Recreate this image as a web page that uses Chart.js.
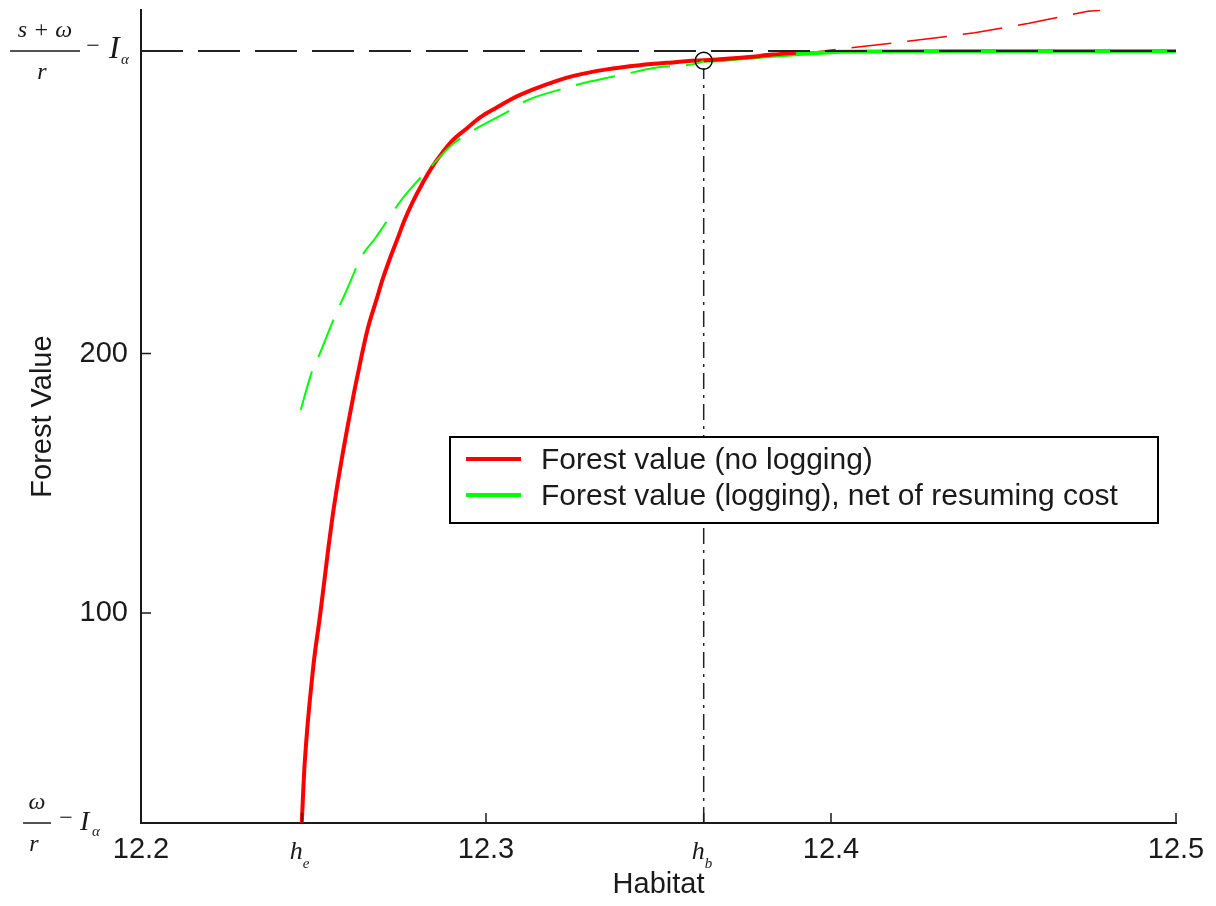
<html>
<head>
<script src="https://cdn.jsdelivr.net/npm/chart.js"></script>
<style>
  body { margin: 0; background: #fff; }
</style>
</head>
<body>
<canvas id="forestChart" width="1216" height="906"></canvas>

<script>
// special points on the axes
const hE = 12.2466;        // h_e
const hB = 12.3631;        // h_b
const lowLevel = 19;       // w/r - I_a
const topLevel = 316.7;    // (s+w)/r - I_a
const markerY = 312.9;     // circle at h_b
const dropY = 310;         // where the dash-dot line meets the circle

// forest value, no logging (solid red)
const redX = [12.2466, 12.2474, 12.2500, 12.2518, 12.2532, 12.2544, 12.2555, 12.2570, 12.2584, 12.2599,
  12.2619, 12.2640, 12.2657, 12.2683, 12.2700, 12.2721, 12.2744, 12.2764, 12.2787, 12.2816,
  12.2845, 12.2874, 12.2903, 12.2944, 12.2982, 12.3031, 12.3077, 12.3135, 12.3205, 12.3251,
  12.3350, 12.3446, 12.3541, 12.3611, 12.3678, 12.3756, 12.3831, 12.3898];
const redY = [19, 41, 80, 98, 113, 126, 137, 150, 161, 172,
  186, 199.5, 209.5, 221, 228.5, 236.5, 244.5, 251.5, 258.3, 265.7,
  272.2, 277.6, 282.2, 286.8, 291.0, 294.9, 298.4, 301.8, 305.2, 307.0,
  309.6, 311.2, 312.3, 313.0, 313.5, 314.3, 315.3, 316.0];

// thin dashed continuation of the red curve
const redExtX = [12.3898, 12.3959, 12.4078, 12.4246, 12.4417, 12.4574, 12.4745, 12.4780];
const redExtY = [316.0, 316.4, 318.2, 320.8, 323.7, 327.4, 332.0, 332.4];

// forest value with logging, dashed part (left of h_b)
const greenDashX = [12.2463, 12.2497, 12.2518, 12.2567, 12.2590, 12.2642, 12.2677, 12.2756, 12.2793, 12.2857,
  12.2903, 12.2953, 12.3069, 12.3118, 12.3214, 12.3301, 12.3396, 12.3495, 12.3620, 12.3631];
const greenDashY = [178.3, 193.7, 199.9, 216.0, 222.6, 238.0, 244.1, 259.5, 265.3, 274.5,
  280.7, 285.3, 293.7, 297.6, 301.8, 304.9, 307.6, 310.3, 312.2, 312.9];

// forest value with logging, solid part (right of h_b)
const greenX = [12.3631, 12.3678, 12.3756, 12.3831, 12.3930, 12.4026, 12.4359, 12.5];
const greenY = [312.9, 313.1, 314.1, 314.9, 315.7, 316.4, 316.7, 316.7];

const xTicks = [12.2, hE, 12.3, hB, 12.4, 12.5];
const yTicks = [lowLevel, 100, 200, topLevel];

const ink = '#1a1a1a';
const sans = '"Liberation Sans", Arial, sans-serif';
const serif = '"Liberation Serif", "Times New Roman", serif';

function pts(xs, ys) {
  return xs.map((v, i) => ({ x: v, y: ys[i] }));
}
function same(a, b) { return Math.abs(a - b) < 1e-9; }

// w/r - I_a style label drawn next to the y axis
function levelLabel(ctx, num, py, bar, minusX, iX, iSize) {
  const mid = (bar[0] + bar[1]) / 2;
  ctx.fillStyle = ink;
  ctx.textBaseline = 'alphabetic';
  ctx.textAlign = 'center';
  ctx.font = 'italic 24px ' + serif;
  ctx.fillText(num, mid, py - 14);
  ctx.fillText('r', mid - 3, py + 28);
  ctx.beginPath();
  ctx.moveTo(bar[0], py);
  ctx.lineTo(bar[1], py);
  ctx.lineWidth = 1.5;
  ctx.strokeStyle = ink;
  ctx.stroke();
  ctx.font = '24px ' + serif;
  ctx.fillText('\u2212', minusX, py + 2);
  ctx.textAlign = 'left';
  ctx.font = 'italic ' + iSize + 'px ' + serif;
  ctx.fillText('I', iX, py + 7);
  ctx.font = 'italic 15px ' + serif;
  ctx.fillText('\u03b1', iX + 12, py + 13);
}

function hLabel(ctx, px, sub) {
  ctx.fillStyle = ink;
  ctx.textBaseline = 'alphabetic';
  ctx.textAlign = 'right';
  ctx.font = 'italic 26px ' + serif;
  ctx.fillText('h', px + 1, 859);
  ctx.textAlign = 'left';
  ctx.font = 'italic 15px ' + serif;
  ctx.fillText(sub, px + 1, 868);
}

const decor = {
  id: 'decor',
  afterDraw(chart) {
    const { ctx, chartArea, scales: { x, y } } = chart;
    ctx.save();

    // tick marks pointing inwards
    ctx.strokeStyle = ink;
    ctx.lineWidth = 1.5;
    ctx.beginPath();
    x.ticks.forEach(t => {
      const px = x.getPixelForValue(t.value);
      ctx.moveTo(px, chartArea.bottom);
      ctx.lineTo(px, chartArea.bottom - 10);
    });
    y.ticks.forEach(t => {
      if (t.value === 100 || t.value === 200) {
        const py = y.getPixelForValue(t.value);
        ctx.moveTo(chartArea.left, py);
        ctx.lineTo(chartArea.left + 10, py);
      }
    });
    ctx.stroke();

    // fraction labels on the y axis
    levelLabel(ctx, 's + \u03c9', y.getPixelForValue(topLevel), [10, 80], 93, 109, 32);
    levelLabel(ctx, '\u03c9', y.getPixelForValue(lowLevel), [23, 51], 66, 80, 28);

    // h_e and h_b under the x axis
    hLabel(ctx, x.getPixelForValue(hE), 'e');
    hLabel(ctx, x.getPixelForValue(hB), 'b');

    // legend box
    const ds = chart.data.datasets;
    ctx.fillStyle = '#fff';
    ctx.fillRect(450, 437, 708, 86);
    ctx.strokeStyle = '#000';
    ctx.lineWidth = 2;
    ctx.strokeRect(450, 437, 708, 86);
    [[ds[0], 459], [ds[1], 495]].forEach(([d, ly]) => {
      ctx.beginPath();
      ctx.moveTo(466, ly);
      ctx.lineTo(521, ly);
      ctx.strokeStyle = d.borderColor;
      ctx.lineWidth = 4;
      ctx.stroke();
      ctx.fillStyle = ink;
      ctx.font = '30px ' + sans;
      ctx.textAlign = 'left';
      ctx.textBaseline = 'middle';
      ctx.fillText(d.label, 541, ly + 2);
    });
    ctx.restore();
  }
};

new Chart(document.getElementById('forestChart'), {
  type: 'line',
  data: {
    datasets: [
      {
        label: 'Forest value (no logging)',
        data: pts(redX, redY),
        borderColor: '#ff0000',
        borderWidth: 4,
        cubicInterpolationMode: 'monotone',
        order: 3
      },
      {
        label: 'Forest value (logging), net of resuming cost',
        data: pts(greenX, greenY),
        borderColor: '#00ff00',
        borderWidth: 4,
        order: 4
      },
      {
        label: 'no logging, continued',
        data: pts(redExtX, redExtY),
        borderColor: '#ff0000',
        borderWidth: 1.5,
        borderDash: [40, 16],
        order: 5
      },
      {
        label: 'logging, below h_b',
        data: pts(greenDashX, greenDashY),
        borderColor: '#00ff00',
        borderWidth: 2,
        borderDash: [40, 16],
        cubicInterpolationMode: 'monotone',
        order: 2
      },
      {
        label: 'top level',
        data: pts([12.2, 12.5], [topLevel, topLevel]),
        borderColor: '#222',
        borderWidth: 2,
        borderDash: [42, 15],
        order: 1
      },
      {
        label: 'h_b line',
        data: pts([hB, hB], [lowLevel, dropY]),
        borderColor: '#222',
        borderWidth: 1.5,
        borderDash: [16, 6, 3, 6],
        order: 1
      },
      {
        label: 'switch point',
        data: pts([hB], [markerY]),
        showLine: false,
        pointRadius: 8.5,
        pointBorderWidth: 1.5,
        pointBorderColor: '#000',
        pointBackgroundColor: 'rgba(0,0,0,0)',
        order: 0
      }
    ]
  },
  options: {
    responsive: false,
    devicePixelRatio: 1,
    animation: false,
    events: [],
    elements: {
      point: { radius: 0 },
      line: { tension: 0, fill: false }
    },
    layout: { padding: { top: 7, right: 40, left: 0, bottom: 0 } },
    plugins: {
      legend: { display: false },
      tooltip: { enabled: false }
    },
    scales: {
      x: {
        type: 'linear',
        min: 12.2,
        max: 12.5,
        afterBuildTicks: s => { s.ticks = xTicks.map(v => ({ value: v })); },
        afterFit: s => { s.height = 83; s.paddingLeft = 0; s.paddingRight = 0; },
        grid: { display: false, drawTicks: false },
        border: { display: true, color: ink, width: 2 },
        ticks: {
          autoSkip: false,
          maxRotation: 0,
          minRotation: 0,
          padding: 10,
          color: ink,
          font: { family: sans, size: 29 },
          callback: v => (same(v, hE) || same(v, hB)) ? '' : v.toFixed(1)
        },
        title: {
          display: true,
          text: 'Habitat',
          color: ink,
          font: { family: sans, size: 29 },
          padding: { top: 0, bottom: 4 }
        }
      },
      y: {
        type: 'linear',
        min: 19,
        max: 332.5,
        afterBuildTicks: s => { s.ticks = yTicks.map(v => ({ value: v })); },
        afterFit: s => { s.width = 141; s.paddingTop = 0; s.paddingBottom = 0; },
        grid: { display: false, drawTicks: false },
        border: { display: true, color: ink, width: 2 },
        ticks: {
          autoSkip: false,
          padding: 13,
          color: ink,
          font: { family: sans, size: 29 },
          callback: v => (v === 100 || v === 200) ? String(v) : ''
        },
        title: {
          display: true,
          text: 'Forest Value',
          color: ink,
          font: { family: sans, size: 29 },
          padding: { top: 26, bottom: 0 }
        }
      }
    }
  },
  plugins: [decor]
});
</script>
</body>
</html>
